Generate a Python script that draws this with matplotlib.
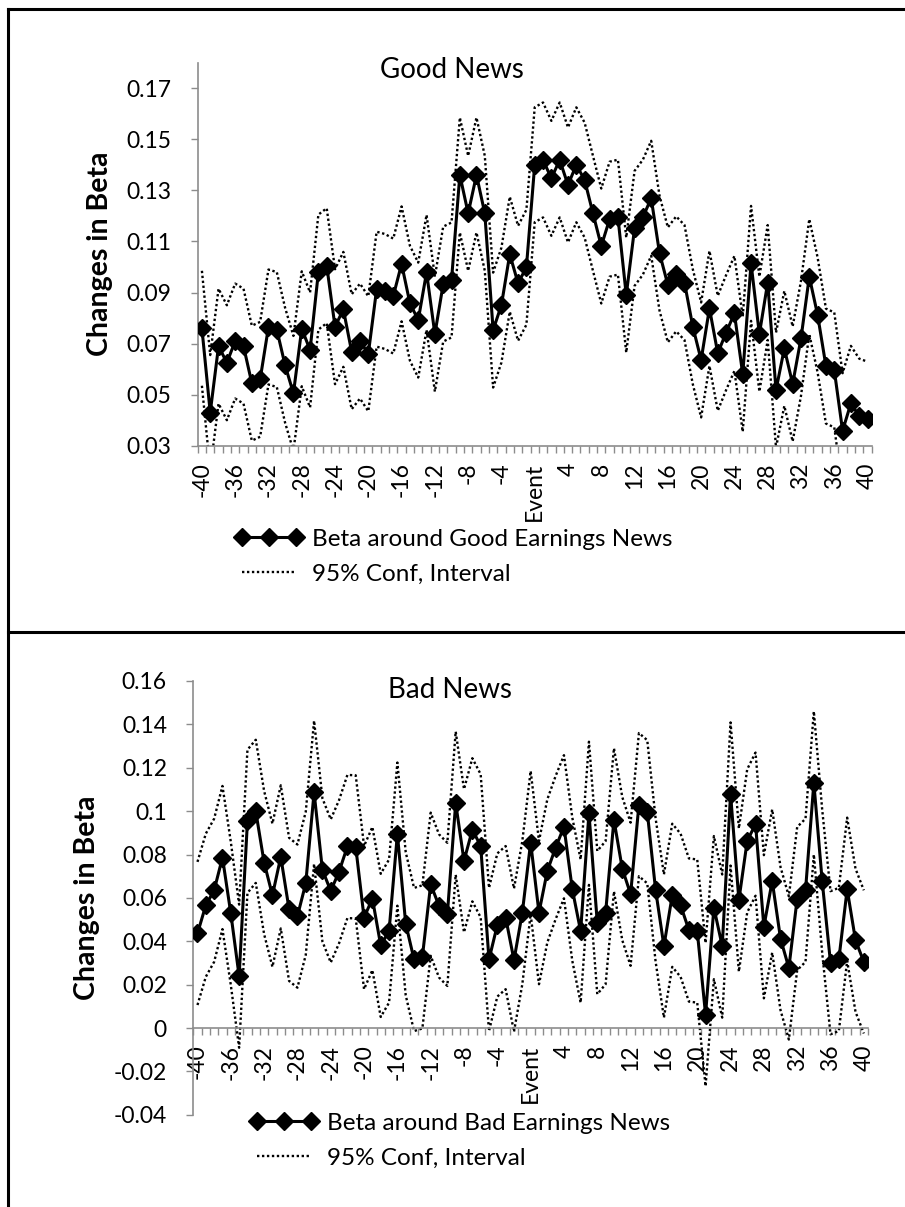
import matplotlib
matplotlib.use("Agg")
import matplotlib.pyplot as plt
from matplotlib.lines import Line2D
import numpy as np

plt.rcParams["font.family"] = ["Lato", "DejaVu Sans"]

# event window: -40 .. 40 days around the earnings announcement
days = list(range(-40, 41))

good_beta = [
    0.0760, 0.0430, 0.0690, 0.0625, 0.0710, 0.0690, 0.0545, 0.0560, 0.0765, 0.0755,
    0.0615, 0.0505, 0.0758, 0.0675, 0.0980, 0.1005, 0.0766, 0.0834, 0.0668, 0.0710,
    0.0660, 0.0913, 0.0904, 0.0886, 0.1012, 0.0858, 0.0792, 0.0979, 0.0737, 0.0933,
    0.0949, 0.1360, 0.1210, 0.1360, 0.1210, 0.0753, 0.0851, 0.1050, 0.0936, 0.0999,
    0.1400, 0.1419, 0.1347, 0.1419, 0.1321, 0.1400, 0.1340, 0.1210, 0.1082, 0.1187,
    0.1195, 0.0890, 0.1151, 0.1195, 0.1269, 0.1054, 0.0930, 0.0973, 0.0939, 0.0766,
    0.0636, 0.0838, 0.0662, 0.0743, 0.0818, 0.0580, 0.1014, 0.0737, 0.0939, 0.0518,
    0.0681, 0.0542, 0.0720, 0.0962, 0.0812, 0.0612, 0.0597, 0.0359, 0.0466, 0.0416,
    0.0404,
]
good_upper = [
    0.0985, 0.0655, 0.0915, 0.0850, 0.0935, 0.0915, 0.0770, 0.0785, 0.0990, 0.0980,
    0.0840, 0.0730, 0.0983, 0.0900, 0.1205, 0.1230, 0.0991, 0.1059, 0.0893, 0.0935,
    0.0885, 0.1138, 0.1129, 0.1111, 0.1237, 0.1083, 0.1017, 0.1204, 0.0962, 0.1158,
    0.1174, 0.1585, 0.1435, 0.1585, 0.1435, 0.0978, 0.1076, 0.1275, 0.1161, 0.1224,
    0.1625, 0.1644, 0.1572, 0.1644, 0.1546, 0.1625, 0.1565, 0.1435, 0.1307, 0.1412,
    0.1420, 0.1115, 0.1376, 0.1420, 0.1494, 0.1279, 0.1155, 0.1198, 0.1164, 0.0991,
    0.0861, 0.1063, 0.0887, 0.0968, 0.1043, 0.0805, 0.1239, 0.0962, 0.1164, 0.0743,
    0.0906, 0.0767, 0.0945, 0.1187, 0.1037, 0.0837, 0.0822, 0.0584, 0.0691, 0.0641,
    0.0629,
]
good_lower = [
    0.0535, 0.0205, 0.0465, 0.0400, 0.0485, 0.0465, 0.0320, 0.0335, 0.0540, 0.0530,
    0.0390, 0.0280, 0.0533, 0.0450, 0.0755, 0.0780, 0.0541, 0.0609, 0.0443, 0.0485,
    0.0435, 0.0688, 0.0679, 0.0661, 0.0787, 0.0633, 0.0567, 0.0754, 0.0512, 0.0708,
    0.0724, 0.1135, 0.0985, 0.1135, 0.0985, 0.0528, 0.0626, 0.0825, 0.0711, 0.0774,
    0.1175, 0.1194, 0.1122, 0.1194, 0.1096, 0.1175, 0.1115, 0.0985, 0.0857, 0.0962,
    0.0970, 0.0665, 0.0926, 0.0970, 0.1044, 0.0829, 0.0705, 0.0748, 0.0714, 0.0541,
    0.0411, 0.0613, 0.0437, 0.0518, 0.0593, 0.0355, 0.0789, 0.0512, 0.0714, 0.0293,
    0.0456, 0.0317, 0.0495, 0.0737, 0.0587, 0.0387, 0.0372, 0.0134, 0.0241, 0.0191,
    0.0179,
]

bad_beta = [
    0.0436, 0.0566, 0.0635, 0.0786, 0.0529, 0.0239, 0.0953, 0.0999, 0.0763, 0.0612,
    0.0789, 0.0547, 0.0516, 0.0667, 0.1087, 0.0729, 0.0632, 0.0721, 0.0837, 0.0835,
    0.0509, 0.0597, 0.0381, 0.0447, 0.0894, 0.0481, 0.0316, 0.0328, 0.0663, 0.0563,
    0.0524, 0.1037, 0.0771, 0.0914, 0.0840, 0.0316, 0.0475, 0.0509, 0.0313, 0.0532,
    0.0855, 0.0532, 0.0724, 0.0832, 0.0928, 0.0640, 0.0447, 0.0990, 0.0486, 0.0532,
    0.0960, 0.0735, 0.0617, 0.1030, 0.0997, 0.0637, 0.0378, 0.0612, 0.0566, 0.0452,
    0.0447, 0.0062, 0.0555, 0.0378, 0.1079, 0.0590, 0.0863, 0.0940, 0.0467, 0.0678,
    0.0412, 0.0277, 0.0597, 0.0635, 0.1130, 0.0678, 0.0301, 0.0316, 0.0640, 0.0405,
    0.0305,
]
bad_upper = [
    0.0766, 0.0896, 0.0965, 0.1116, 0.0859, 0.0569, 0.1283, 0.1329, 0.1093, 0.0942,
    0.1119, 0.0877, 0.0846, 0.0997, 0.1417, 0.1059, 0.0962, 0.1051, 0.1167, 0.1165,
    0.0839, 0.0927, 0.0711, 0.0777, 0.1224, 0.0811, 0.0646, 0.0658, 0.0993, 0.0893,
    0.0854, 0.1367, 0.1101, 0.1244, 0.1170, 0.0646, 0.0805, 0.0839, 0.0643, 0.0862,
    0.1185, 0.0862, 0.1054, 0.1162, 0.1258, 0.0970, 0.0777, 0.1320, 0.0816, 0.0862,
    0.1290, 0.1065, 0.0947, 0.1360, 0.1327, 0.0967, 0.0708, 0.0942, 0.0896, 0.0782,
    0.0777, 0.0392, 0.0885, 0.0708, 0.1409, 0.0920, 0.1193, 0.1270, 0.0797, 0.1008,
    0.0742, 0.0607, 0.0927, 0.0965, 0.1460, 0.1008, 0.0631, 0.0646, 0.0970, 0.0735,
    0.0635,
]
bad_lower = [
    0.0106, 0.0236, 0.0305, 0.0456, 0.0199, -0.0091, 0.0623, 0.0669, 0.0433, 0.0282,
    0.0459, 0.0217, 0.0186, 0.0337, 0.0757, 0.0399, 0.0302, 0.0391, 0.0507, 0.0505,
    0.0179, 0.0267, 0.0051, 0.0117, 0.0564, 0.0151, -0.0014, -0.0002, 0.0333, 0.0233,
    0.0194, 0.0707, 0.0441, 0.0584, 0.0510, -0.0014, 0.0145, 0.0179, -0.0017, 0.0202,
    0.0525, 0.0202, 0.0394, 0.0502, 0.0598, 0.0310, 0.0117, 0.0660, 0.0156, 0.0202,
    0.0630, 0.0405, 0.0287, 0.0700, 0.0667, 0.0307, 0.0048, 0.0282, 0.0236, 0.0122,
    0.0117, -0.0268, 0.0225, 0.0048, 0.0749, 0.0260, 0.0533, 0.0610, 0.0137, 0.0348,
    0.0082, -0.0053, 0.0267, 0.0305, 0.0800, 0.0348, -0.0029, -0.0014, 0.0310, 0.0075,
    -0.0025,
]

x_label_pos = list(range(-40, 41, 4))
x_labels = ["Event" if d == 0 else str(d) for d in x_label_pos]

good_yticks = [0.03, 0.05, 0.07, 0.09, 0.11, 0.13, 0.15, 0.17]
good_ylabels = ["0.03", "0.05", "0.07", "0.09", "0.11", "0.13", "0.15", "0.17"]
bad_yticks = [-0.04, -0.02, 0, 0.02, 0.04, 0.06, 0.08, 0.1, 0.12, 0.14, 0.16]
bad_ylabels = ["-0.04", "-0.02", "0", "0.02", "0.04", "0.06", "0.08", "0.1", "0.12", "0.14", "0.16"]

AXIS_GRAY = "#8c8c8c"
FS = 16.5
DOTS = (0, (1, 1.1))


def style_axes(ax, yticks, ylabels, ylim):
    for side in ("top", "right"):
        ax.spines[side].set_visible(False)
    for side in ("left", "bottom"):
        ax.spines[side].set_color(AXIS_GRAY)
        ax.spines[side].set_linewidth(1.2)
    ax.set_xlim(-40.5, 40.5)
    ax.set_ylim(*ylim)
    ax.set_xticks(x_label_pos)
    ax.set_xticklabels(x_labels, rotation=90, fontsize=FS)
    ax.set_xticks(np.arange(-40.5, 41, 1.0), minor=True)
    ax.tick_params(axis="x", which="major", length=0, pad=12)
    ax.tick_params(axis="x", which="minor", length=5, width=1, color=AXIS_GRAY, direction="out")
    ax.set_yticks(yticks)
    ax.set_yticklabels(ylabels, fontsize=FS)
    ax.tick_params(axis="y", which="major", length=5, width=1, color=AXIS_GRAY, pad=14)
    ax.set_ylabel("Changes in Beta", fontsize=20.5, fontweight="bold")


def draw_panel(ax, beta, upper, lower):
    main, = ax.plot(days, beta, color="black", lw=2.2, marker="D", markersize=9.5, zorder=3)
    ci, = ax.plot(days, upper, color="black", lw=1.7, linestyle=DOTS, zorder=2)
    ax.plot(days, lower, color="black", lw=1.7, linestyle=DOTS, zorder=2)
    return main, ci


fig = plt.figure(figsize=(9.05, 12.07), dpi=100)

ax1 = fig.add_axes([0.2185, 0.6307, 0.7447, 0.3174])
main1, ci1 = draw_panel(ax1, good_beta, good_upper, good_lower)
style_axes(ax1, good_yticks, good_ylabels, (0.03, 0.18))
ax1.yaxis.set_label_coords(-0.1257, 0.5)
ax1.text(0.377, 0.981, "Good News", transform=ax1.transAxes, ha="center", va="center", fontsize=20)

ax2 = fig.add_axes([0.2136, 0.0764, 0.7455, 0.3594])
ax2.spines["bottom"].set_position(("data", 0))
main2, ci2 = draw_panel(ax2, bad_beta, bad_upper, bad_lower)
style_axes(ax2, bad_yticks, bad_ylabels, (-0.04, 0.16))
ax2.yaxis.set_label_coords(-0.138, 0.5)
ax2.text(0.380, 0.979, "Bad News", transform=ax2.transAxes, ha="center", va="center", fontsize=20)

leg_kw = dict(loc="upper left", bbox_transform=fig.transFigure, frameon=False, numpoints=3,
              fontsize=17.5, handlelength=2.8, handletextpad=0.35, labelspacing=0.58,
              borderpad=0, borderaxespad=0)
fig.legend([main1, ci1], ["Beta around Good Earnings News", "95% Conf, Interval"],
           bbox_to_anchor=(0.2597, 0.5620), **leg_kw)
fig.legend([main2, ci2], ["Beta around Bad Earnings News", "95% Conf, Interval"],
           bbox_to_anchor=(0.2762, 0.0780), **leg_kw)

# frame lines around the two panels
W, H = 905.0, 1207.0
for (x0, y0, x1, y1) in [(8, 9, 904, 9), (8, 9, 8, 1207), (8, 632, 905, 632)]:
    fig.add_artist(Line2D([x0 / W, x1 / W], [1 - y0 / H, 1 - y1 / H],
                          transform=fig.transFigure, color="black", lw=2.2))

fig.savefig("out.png", dpi=100)
